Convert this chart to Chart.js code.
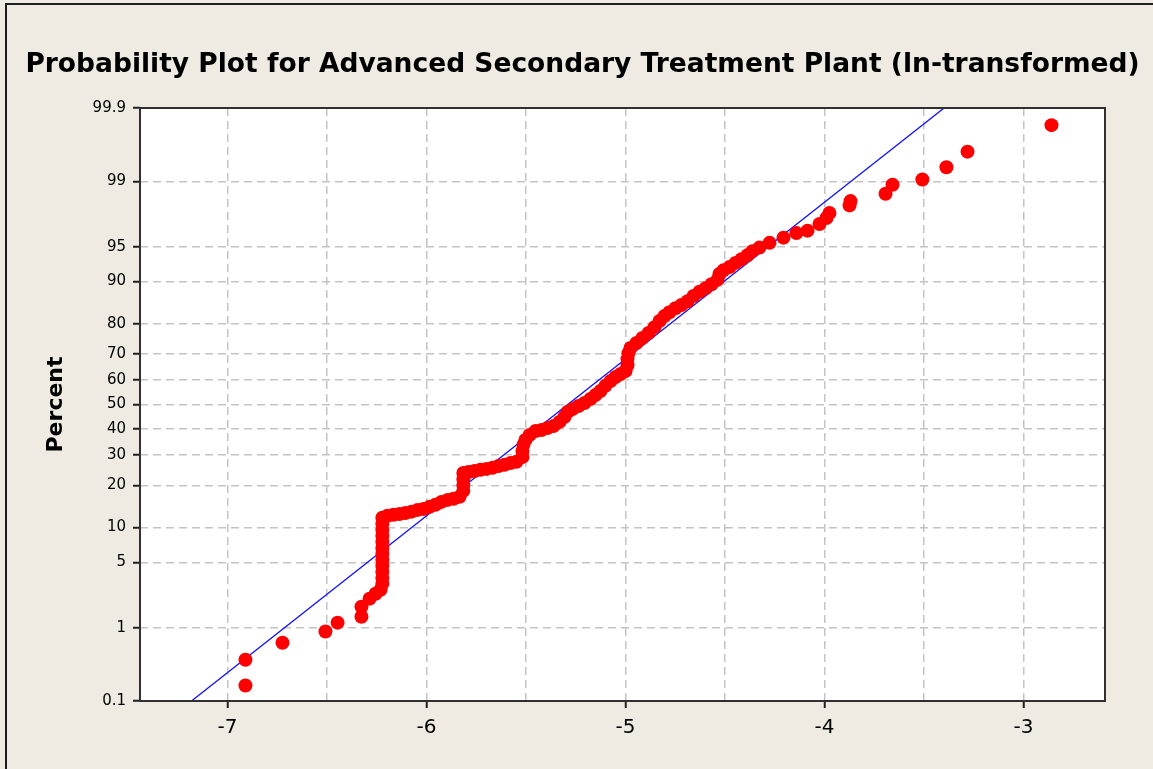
<!DOCTYPE html>
<html>
<head>
<meta charset="utf-8">
<title>Probability Plot</title>
<script src="https://cdn.jsdelivr.net/npm/chart.js@4.4.0/dist/chart.umd.min.js"></script>
<style>
    body { margin: 0; background: #efebe2; }
    #wrap { position: relative; width: 1153px; height: 769px; overflow: hidden; background: #efebe2; }
    #frame { position: absolute; left: 5px; top: 3px; width: 1200px; height: 800px; border-left: 2px solid #1e1e1e; border-top: 2px solid #1e1e1e; pointer-events: none; }
    #title { position: absolute; left: 0; top: 47px; width: 1165px; text-align: center; line-height: 1; font: bold 26.5px "DejaVu Sans", sans-serif; color: #000; white-space: nowrap; }
    canvas { position: absolute; left: 0; top: 0; }
</style>
</head>
<body>
<div id="wrap">
    <canvas id="probChart" width="1153" height="769"></canvas>
    <div id="title">Probability Plot for Advanced Secondary Treatment Plant (ln-transformed)</div>
    <div id="frame"></div>
</div>
<script>
// ln-transformed values and their plotted percent
const lnValues = [
    -6.910, -6.910, -6.724, -6.508, -6.447, -6.327, -6.327, -6.286, -6.256, -6.231,
    -6.222, -6.222, -6.222, -6.222, -6.222, -6.222, -6.222, -6.222, -6.222, -6.222, -6.222, -6.222,
    -6.196, -6.166, -6.136, -6.106, -6.075, -6.045, -6.015, -5.985, -5.955, -5.925, -5.894, -5.864, -5.834,
    -5.815, -5.815, -5.815, -5.815,
    -5.789, -5.759, -5.729, -5.698, -5.668, -5.638, -5.608, -5.578, -5.548,
    -5.518, -5.518, -5.513, -5.503, -5.482, -5.452, -5.422, -5.392, -5.362, -5.332,
    -5.307, -5.291, -5.266, -5.236, -5.206, -5.176, -5.151, -5.126, -5.101, -5.075,
    -5.050, -5.025, -5.000, -4.990, -4.990, -4.985, -4.975, -4.945, -4.915, -4.884,
    -4.854, -4.829, -4.804, -4.779, -4.749, -4.719, -4.688, -4.658, -4.628, -4.598,
    -4.568, -4.538, -4.528, -4.508, -4.477, -4.447, -4.417, -4.387, -4.362, -4.327,
    -4.276, -4.206, -4.141, -4.085, -4.025, -3.990, -3.975, -3.874, -3.869,
    -3.693, -3.658, -3.508, -3.387, -3.281, -2.859,
];
const percents = [
    0.17, 0.39, 0.65, 0.90, 1.15, 1.35, 1.75, 2.15, 2.43, 2.68,
    3.09, 3.54, 4.07, 4.64, 5.28, 6.00, 6.75, 7.63, 8.56, 9.57, 10.7, 11.9,
    12.3, 12.5, 12.7, 12.9, 13.2, 13.6, 13.8, 14.3, 14.8, 15.5, 16.0, 16.3, 16.8,
    18.4, 20.1, 21.9, 23.8,
    24.1, 24.4, 24.8, 25.1, 25.5, 26.1, 26.5, 27.1, 27.5,
    29.2, 31.4, 33.7, 35.6, 37.5, 39.1, 39.5, 40.3, 41.1, 42.8,
    44.8, 46.9, 48.1, 49.4, 50.6, 52.3, 53.9, 55.6, 57.7, 59.7,
    61.3, 62.5, 63.6, 65.9, 68.2, 70.4, 72.2, 73.9, 75.6, 77.2,
    79.0, 80.8, 82.2, 83.2, 84.2, 85.0, 85.9, 87.1, 88.0, 88.7,
    89.5, 90.3, 91.3, 91.9, 92.4, 93.0, 93.5, 94.0, 94.5, 94.9,
    95.4, 95.9, 96.3, 96.5, 97.0, 97.4, 97.7, 98.1, 98.3,
    98.6, 98.9, 99.05, 99.33, 99.58, 99.82,
];

const yTickPercents = [0.1, 1, 5, 10, 20, 30, 40, 50, 60, 70, 80, 90, 95, 99, 99.9];
const yTickLabels = ["0.1", "1", "5", "10", "20", "30", "40", "50", "60", "70", "80", "90", "95", "99", "99.9"];
const xTicks = [-7, -6.5, -6, -5.5, -5, -4.5, -4, -3.5, -3];
const xTickLabels = ["-7", "", "-6", "", "-5", "", "-4", "", "-3"];

// fitted normal line
const fitMean = -5.29;
const fitSd = 0.612;

const xMin = -7.44;
const xMax = -2.59;
const pMin = 0.1;
const pMax = 99.9;

const FONT = '"DejaVu Sans", sans-serif';

// inverse normal cdf (Acklam) - used for the probability scale
function probit(p) {
    const a = [-3.969683028665376e1, 2.209460984245205e2, -2.759285104469687e2, 1.38357751867269e2, -3.066479806614716e1, 2.506628277459239];
    const b = [-5.447609879822406e1, 1.615858368580409e2, -1.556989798598866e2, 6.680131188771972e1, -1.328068155288572e1];
    const c = [-7.784894002430293e-3, -3.223964580411365e-1, -2.400758277161838, -2.549732539343734, 4.374664141464968, 2.938163982698783];
    const d = [7.784695709041462e-3, 3.224671290700398e-1, 2.445134137142996, 3.754408661907416];
    const plow = 0.02425;
    let q, r;
    if (p < plow) {
        q = Math.sqrt(-2 * Math.log(p));
        return (((((c[0] * q + c[1]) * q + c[2]) * q + c[3]) * q + c[4]) * q + c[5]) / ((((d[0] * q + d[1]) * q + d[2]) * q + d[3]) * q + 1);
    }
    if (p > 1 - plow) {
        q = Math.sqrt(-2 * Math.log(1 - p));
        return -(((((c[0] * q + c[1]) * q + c[2]) * q + c[3]) * q + c[4]) * q + c[5]) / ((((d[0] * q + d[1]) * q + d[2]) * q + d[3]) * q + 1);
    }
    q = p - 0.5;
    r = q * q;
    return ((((((a[0] * r + a[1]) * r + a[2]) * r + a[3]) * r + a[4]) * r + a[5]) * q) / (((((b[0] * r + b[1]) * r + b[2]) * r + b[3]) * r + b[4]) * r + 1);
}

const zMin = probit(pMin / 100);
const zMax = probit(pMax / 100);

const points = lnValues.map((v, i) => ({ x: v, y: probit(percents[i] / 100) }));
const fitLine = [
    { x: fitMean + zMin * fitSd, y: zMin },
    { x: fitMean + zMax * fitSd, y: zMax },
];

// white plot area + dark frame around it
const plotFrame = {
    id: "plotFrame",
    beforeDraw(chart) {
        const { ctx, chartArea: a } = chart;
        ctx.save();
        ctx.fillStyle = "#ffffff";
        ctx.fillRect(a.left, a.top, a.right - a.left, a.bottom - a.top);
        ctx.restore();
    },
    afterDraw(chart) {
        const { ctx, chartArea: a } = chart;
        ctx.save();
        ctx.strokeStyle = "#303030";
        ctx.lineWidth = 2;
        ctx.strokeRect(a.left, a.top, a.right - a.left, a.bottom - a.top);
        ctx.restore();
    },
};

const ctx = document.getElementById("probChart");
new Chart(ctx, {
    type: "scatter",
    data: {
        datasets: [
            {
                label: "data",
                data: points,
                pointRadius: 7,
                pointBackgroundColor: "#ff0000",
                pointBorderWidth: 0,
                order: 0,
            },
            {
                label: "fit",
                data: fitLine,
                showLine: true,
                borderColor: "#1010ff",
                borderWidth: 1.3,
                pointRadius: 0,
                order: 1,
            },
        ],
    },
    options: {
        responsive: false,
        animation: false,
        devicePixelRatio: 1,
        layout: { padding: { top: 108, right: 48, bottom: 0, left: 0 } },
        plugins: {
            legend: { display: false },
            tooltip: { enabled: false },
            title: { display: false },
        },
        scales: {
            x: {
                type: "linear",
                min: xMin,
                max: xMax,
                afterBuildTicks: (scale) => {
                    scale.ticks = xTicks.map((v) => ({ value: v }));
                },
                afterFit: (scale) => {
                    scale.height = 68;
                },
                border: { display: false, dash: [8, 5] },
                grid: {
                    color: "#c4c4c4",
                    lineWidth: 1.5,
                    tickLength: 7,
                    tickWidth: 2,
                    tickBorderDash: [],
                    tickColor: (c) => (c.tick && Number.isInteger(c.tick.value) ? "#202020" : "rgba(0,0,0,0)"),
                },
                ticks: {
                    callback: (v, i) => xTickLabels[i],
                    autoSkip: false,
                    maxRotation: 0,
                    padding: 8,
                    color: "#000",
                    font: { family: FONT, size: 20 },
                },
            },
            y: {
                type: "linear",
                min: zMin,
                max: zMax,
                afterBuildTicks: (scale) => {
                    scale.ticks = yTickPercents.map((p) => ({ value: probit(p / 100) }));
                },
                afterFit: (scale) => {
                    scale.width = 140;
                },
                border: { display: false, dash: [8, 5] },
                grid: {
                    color: "#c4c4c4",
                    lineWidth: 1.5,
                    tickLength: 7,
                    tickWidth: 2,
                    tickBorderDash: [],
                    tickColor: "#202020",
                },
                ticks: {
                    callback: (v, i) => yTickLabels[i],
                    autoSkip: false,
                    padding: 7,
                    color: "#000",
                    font: { family: FONT, size: 15 },
                },
                title: {
                    display: true,
                    text: "Percent",
                    color: "#000",
                    padding: { top: 43, bottom: 0 },
                    font: { family: FONT, size: 22, weight: "bold" },
                },
            },
        },
    },
    plugins: [plotFrame],
});
</script>
</body>
</html>
